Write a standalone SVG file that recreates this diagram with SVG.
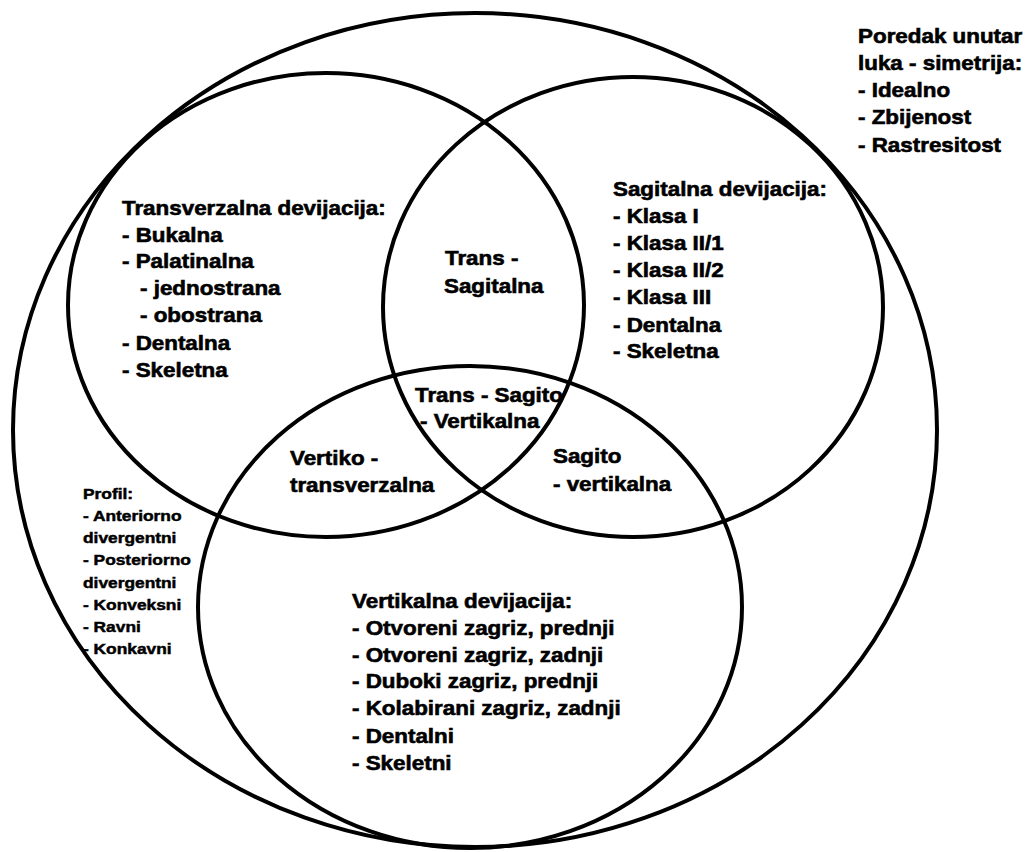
<svg xmlns="http://www.w3.org/2000/svg" width="1026" height="852" viewBox="0 0 1026 852">
<style>
.ring{fill:none;stroke:#000;stroke-width:4}
text{font-family:"Liberation Sans",Arial,sans-serif;font-weight:bold;fill:#000;stroke:#000;stroke-width:0.6;font-size:20px}
.sm{font-size:15.5px;stroke-width:0.5}
</style>
<rect width="1026" height="852" fill="#fff"/>
<g id="shapes">
<ellipse id="outer" class="ring" cx="475" cy="430" rx="462" ry="417"/>
<ellipse id="transverzalna" class="ring" cx="326" cy="305" rx="258" ry="232"/>
<ellipse id="sagitalna" class="ring" cx="633" cy="307" rx="250" ry="230"/>
<ellipse id="vertikalna" class="ring" cx="470" cy="607" rx="272" ry="241"/>
</g>
<g id="labels" transform="scale(1.12,1)">
<g id="trans-label">
<text x="108.9" y="215">Transverzalna devijacija:</text>
<text x="108.9" y="242">- Bukalna</text>
<text x="108.9" y="268">- Palatinalna</text>
<text x="125" y="295">- jednostrana</text>
<text x="125" y="322">- obostrana</text>
<text x="108.9" y="350">- Dentalna</text>
<text x="108.9" y="377">- Skeletna</text>
</g>
<g id="sag-label">
<text x="547.3" y="196">Sagitalna devijacija:</text>
<text x="547.3" y="223">- Klasa I</text>
<text x="547.3" y="250">- Klasa II/1</text>
<text x="547.3" y="277">- Klasa II/2</text>
<text x="547.3" y="304">- Klasa III</text>
<text x="547.3" y="332">- Dentalna</text>
<text x="547.3" y="358">- Skeletna</text>
</g>
<g id="poredak">
<text x="766.1" y="43">Poredak unutar</text>
<text x="766.1" y="70">luka - simetrija:</text>
<text x="766.1" y="97">- Idealno</text>
<text x="766.1" y="124">- Zbijenost</text>
<text x="766.1" y="152">- Rastresitost</text>
</g>
<g id="trans-sag">
<text x="397.3" y="265">Trans -</text>
<text x="396.4" y="293">Sagitalna</text>
</g>
<g id="trans-sag-vert">
<text x="370.5" y="402">Trans - Sagito</text>
<text x="375" y="428">- Vertikalna</text>
</g>
<g id="vert-trans">
<text x="258.9" y="465">Vertiko -</text>
<text x="258.9" y="492">transverzalna</text>
</g>
<g id="sag-vert">
<text x="493.75" y="463">Sagito</text>
<text x="493.75" y="491">- vertikalna</text>
</g>
<g id="vert-label">
<text x="314.3" y="608">Vertikalna devijacija:</text>
<text x="314.3" y="635">- Otvoreni zagriz, prednji</text>
<text x="314.3" y="662">- Otvoreni zagriz, zadnji</text>
<text x="314.3" y="688">- Duboki zagriz, prednji</text>
<text x="314.3" y="715">- Kolabirani zagriz, zadnji</text>
<text x="314.3" y="743">- Dentalni</text>
<text x="314.3" y="770">- Skeletni</text>
</g>
<g id="profil">
<text class="sm" x="74.1" y="499">Profil:</text>
<text class="sm" x="74.1" y="521">- Anteriorno</text>
<text class="sm" x="74.1" y="543">divergentni</text>
<text class="sm" x="74.1" y="565">- Posteriorno</text>
<text class="sm" x="74.1" y="588">divergentni</text>
<text class="sm" x="74.1" y="610">- Konveksni</text>
<text class="sm" x="74.1" y="632">- Ravni</text>
<text class="sm" x="74.1" y="654">- Konkavni</text>
</g>
</g>
</svg>
